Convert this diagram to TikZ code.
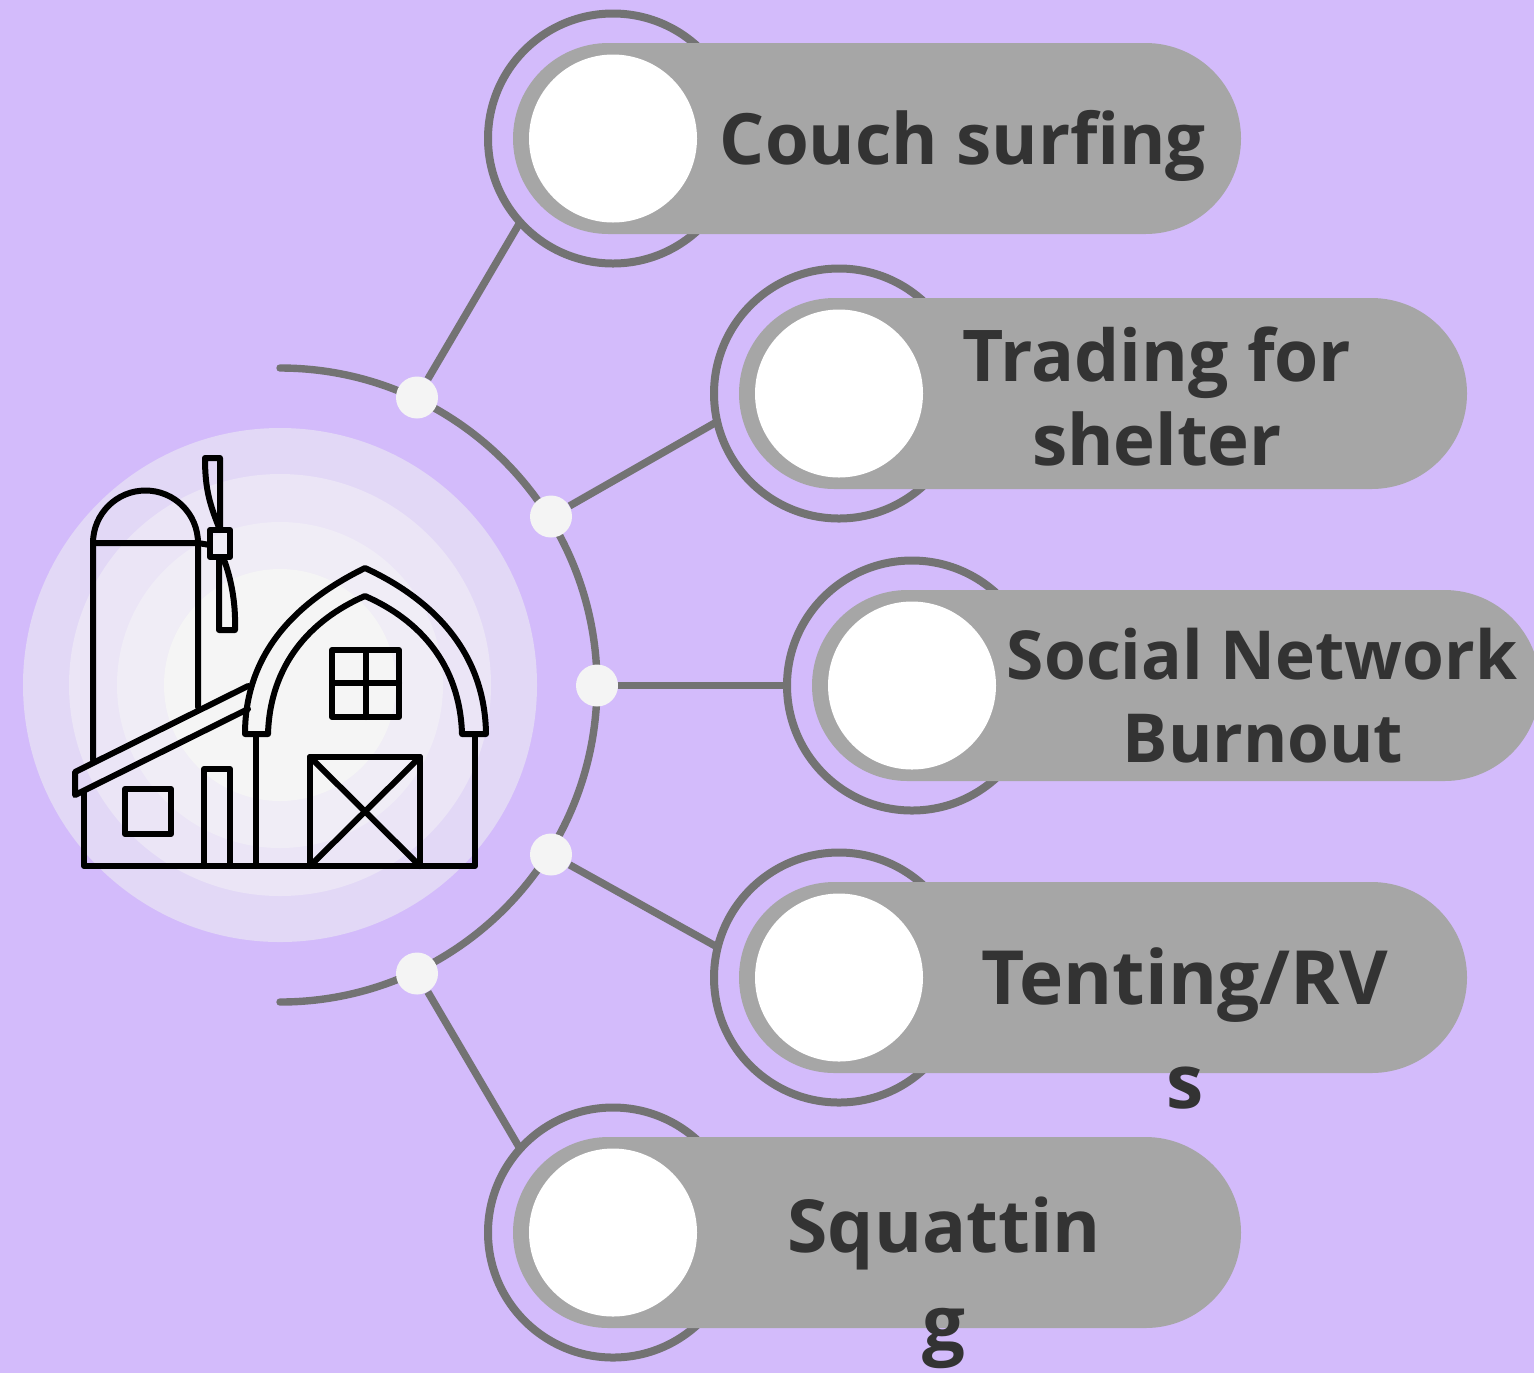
\documentclass[tikz,border=0pt]{standalone}
\usepackage{fontspec}
\setmainfont{Open Sans}
\newfontfamily\labfont{Open Sans}[BoldFont={Open Sans Bold}]
\definecolor{bgc}{HTML}{D3BBFB}
\definecolor{pillc}{HTML}{A6A6A6}
\definecolor{linec}{HTML}{737373}
\definecolor{textc}{HTML}{333333}
\definecolor{dotc}{HTML}{F4F4F4}
\definecolor{haloa}{HTML}{E2D8F6}
\definecolor{halob}{HTML}{EBE5F6}
\definecolor{haloc}{HTML}{F0EDF6}
\definecolor{halod}{HTML}{F5F5F5}
\tikzset{
 ringnode/.style={circle,draw=linec,line width=4pt,minimum size=125pt,inner sep=0pt,outer sep=0pt},
 whitenode/.style={circle,fill=white,minimum size=84pt,inner sep=0pt},
 dotnode/.style={circle,fill=dotc,minimum size=21pt,inner sep=0pt},
 pillbar/.style={fill=pillc,rounded corners=47.75pt},
 conn/.style={draw=linec,line width=3.7pt},
 barn/.style={draw=black,line width=3pt,line join=round,line cap=round},
 lab/.style={text=textc,font=\labfont\bfseries\fontsize{#1}{42}\selectfont,inner sep=0pt,anchor=base},
}
\begin{document}
\begin{tikzpicture}[x=0.5pt,y=-0.5pt]
\useasboundingbox (0,0) rectangle (1534,1372);
\fill[bgc] (-4,-4) rectangle (1538,1376);
\clip (-4,-4) rectangle (1534,1372);
% halos
\fill[haloa] (280,685) circle[radius=257];
\fill[halob] (280,685) circle[radius=211];
\fill[haloc] (280,685) circle[radius=163];
\fill[halod] (280,685) circle[radius=116];
% arc
\draw[linec,line width=3.7pt,line cap=round] (280,368) arc[start angle=-90,end angle=90,radius=317];
% rings
\node[ringnode] (r1) at (613,138.5) {};
\node[ringnode] (r2) at (839,393.5) {};
\node[ringnode] (r3) at (912,685.5) {};
\node[ringnode] (r4) at (839,977.5) {};
\node[ringnode] (r5) at (613,1232.5) {};
% dots
\node[dotnode] (d1) at (417,397.5) {};
\node[dotnode] (d2) at (551,516.5) {};
\node[dotnode] (d3) at (597,685.5) {};
\node[dotnode] (d4) at (551,854.5) {};
\node[dotnode] (d5) at (417,973.5) {};
% connectors
\draw[conn] (d1) -- (r1.222);
\draw[conn] (d2) -- (r2.193.5);
\draw[conn] (d3) -- (r3);
\draw[conn] (d4) -- (r4.166.5);
\draw[conn] (d5) -- (r5.138);
% pills
\fill[pillbar] (513,43) rectangle (1241,234);
\fill[pillbar] (739,298) rectangle (1467,489);
\fill[pillbar] (812,590) rectangle (1540,781);
\fill[pillbar] (739,882) rectangle (1467,1073);
\fill[pillbar] (513,1137) rectangle (1241,1328);
% white circles
\node[whitenode] (w1) at (613,138.5) {};
\node[whitenode] (w2) at (839,393.5) {};
\node[whitenode] (w3) at (912,685.5) {};
\node[whitenode] (w4) at (839,977.5) {};
\node[whitenode] (w5) at (613,1232.5) {};
% labels
\node[lab=35.4] (t1) at (963,164) {Couch surfing};
\node[lab=35.7] (t2a) at (1157,381) {Trading for};
\node[lab=35.4] (t2b) at (1157,465) {shelter};
\node[lab=33.8] (t3a) at (1262,679) {Social Network};
\node[lab=33.8] (t3b) at (1263,762) {Burnout};
\node[lab=37.4] (t4a) at (1185,1004) {Tenting/RV};
\node[lab=37.4] (t4b) at (1185,1108) {s};
\node[lab=36.6] (t5a) at (944,1252) {Squattin};
\node[lab=38] (t5b) at (944,1350) {g};
% barn
\begin{scope}[barn]
 % silo
 \draw (93,760) -- (93,543) arc[start angle=180,end angle=360,radius=52.5] -- (198,707);
 \draw (93,543) -- (198,543) -- (210,545);
 % windmill
 \draw (220,530) .. controls (210,505) and (205,490) .. (205,458) -- (220,458) -- (220,530);
 \draw (210,530) rectangle (230,557);
 \draw (223,557) .. controls (230,575) and (236,600) .. (235,630) -- (219,630) -- (219,557);
 % lean-to roof
 \draw (248,686) -- (75,772) -- (75,795) -- (248,709);
 % lean-to walls
 \draw (84,792) -- (84,866) -- (475,866) -- (475,734);
 \draw (256,734) -- (256,866);
 \draw (125,789) rectangle (171,834);
 \draw (204,866) -- (204,769) -- (230,769) -- (230,866);
 % main roof
 \draw (245,734) .. controls (245,650) and (300,600) .. (365,568)
   .. controls (430,598) and (485,650) .. (486,734) -- (462,734)
   .. controls (460,665) and (420,620) .. (365,596)
   .. controls (310,620) and (270,665) .. (268,734) -- cycle;
 % window
 \draw (332,650) rectangle (399,717);
 \draw (365.5,650) -- (365.5,717);
 \draw (332,683) -- (399,683);
 % door
 \draw (310,866) -- (310,757) -- (420,757) -- (420,866);
 \draw (310,757) -- (420,866);
 \draw (420,757) -- (310,866);
\end{scope}
\end{tikzpicture}
\end{document}
